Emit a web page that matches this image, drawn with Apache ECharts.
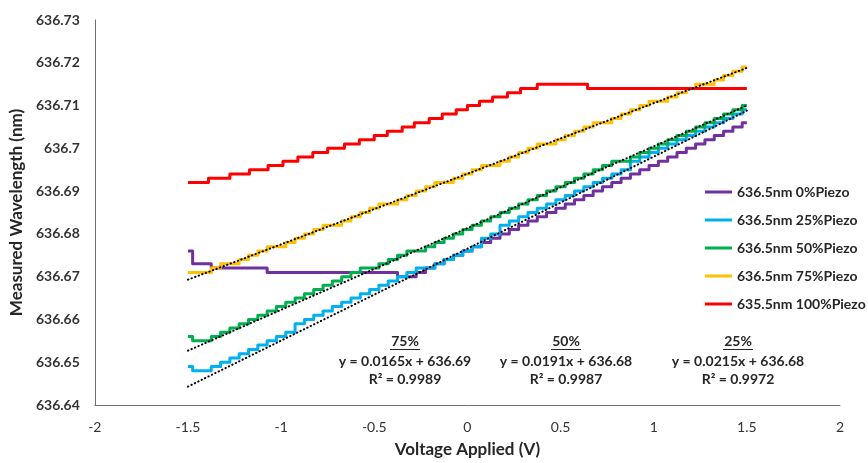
<!DOCTYPE html>
<html>
<head>
<meta charset="utf-8">
<script src="https://cdn.jsdelivr.net/npm/echarts@6/dist/echarts.min.js"></script>
<style>
  html, body { margin: 0; padding: 0; background: #ffffff; }
  #chart { width: 868px; height: 463px; }
</style>
</head>
<body>
<div id="chart"></div>
<script>
// Sweep voltages (V) shared by the four 636.5 nm runs
const voltage = [-1.5,-1.45,-1.4,-1.35,-1.3,-1.25,-1.2,-1.15,-1.1,-1.05,
  -1,-0.95,-0.9,-0.85,-0.8,-0.75,-0.7,-0.65,-0.6,-0.55,
  -0.5,-0.45,-0.4,-0.35,-0.3,-0.25,-0.2,-0.15,-0.1,-0.05,
  0,0.05,0.1,0.15,0.2,0.25,0.3,0.35,0.4,0.45,
  0.5,0.55,0.6,0.65,0.7,0.75,0.8,0.85,0.9,0.95,
  1,1.05,1.1,1.15,1.2,1.25,1.3,1.35,1.4,1.45,1.5];

// Measured wavelength (nm) for each run
const piezo0 = [636.676,636.673,636.673,636.672,636.672,636.672,636.672,636.672,636.672,636.671,
  636.671,636.671,636.671,636.671,636.671,636.671,636.671,636.671,636.671,636.671,
  636.671,636.671,636.671,636.670,636.670,636.671,636.672,636.673,636.674,636.675,
  636.676,636.677,636.678,636.679,636.680,636.681,636.682,636.683,636.684,636.685,
  636.686,636.687,636.688,636.689,636.690,636.691,636.692,636.693,636.694,636.695,
  636.696,636.697,636.698,636.699,636.700,636.701,636.702,636.703,636.704,636.705,636.706];

const piezo25 = [636.649,636.648,636.648,636.649,636.650,636.651,636.652,636.653,636.654,636.655,
  636.656,636.657,636.659,636.660,636.661,636.662,636.663,636.664,636.665,636.666,
  636.667,636.668,636.669,636.670,636.671,636.672,636.672,636.673,636.674,636.675,
  636.676,636.677,636.679,636.680,636.682,636.683,636.684,636.685,636.686,636.687,
  636.688,636.689,636.690,636.691,636.692,636.693,636.694,636.695,636.697,636.698,
  636.699,636.700,636.701,636.702,636.703,636.704,636.705,636.706,636.707,636.708,636.709];

const piezo50 = [636.656,636.655,636.655,636.656,636.657,636.658,636.659,636.660,636.661,636.662,
  636.663,636.664,636.665,636.666,636.667,636.668,636.669,636.670,636.671,636.672,
  636.672,636.673,636.674,636.675,636.676,636.676,636.677,636.678,636.679,636.680,
  636.681,636.682,636.683,636.684,636.685,636.686,636.687,636.688,636.689,636.690,
  636.691,636.692,636.693,636.694,636.695,636.696,636.697,636.697,636.698,636.699,
  636.700,636.701,636.702,636.703,636.704,636.705,636.706,636.707,636.708,636.709,636.710];

const piezo75 = [636.671,636.671,636.671,636.672,636.673,636.673,636.674,636.675,636.676,636.677,
  636.677,636.678,636.679,636.680,636.681,636.682,636.682,636.683,636.684,636.685,
  636.686,636.687,636.687,636.688,636.689,636.690,636.691,636.692,636.692,636.693,
  636.694,636.695,636.696,636.696,636.697,636.698,636.699,636.700,636.701,636.701,
  636.702,636.703,636.704,636.705,636.706,636.706,636.707,636.708,636.709,636.710,
  636.711,636.711,636.712,636.713,636.714,636.715,636.715,636.716,636.717,636.718,636.719];

// 635.5 nm run: voltage where each new reading starts, and the reading
const voltage100 = [-1.5,-1.39,-1.275,-1.17,-1.07,-0.99,-0.91,-0.83,-0.75,-0.66,
  -0.58,-0.5,-0.43,-0.35,-0.285,-0.205,-0.135,-0.06,0,0.065,
  0.135,0.215,0.285,0.375,0.645,1.5];
const piezo100 = [636.692,636.693,636.694,636.695,636.696,636.697,636.698,636.699,636.700,636.701,
  636.702,636.703,636.704,636.705,636.706,636.707,636.708,636.709,636.710,636.711,
  636.712,636.713,636.714,636.715,636.714,636.714];

// Linear trend end points (x = -1.5 and x = 1.5)
const trendX = [-1.5, 1.5];
const trend75 = [636.6693, 636.7188];
const trend50 = [636.6527, 636.7100];
const trend25 = [636.6443, 636.7088];

// Fit annotations
const fitTitles = ['75%', '50%', '25%'];
const fitEquations = ['y = 0.0165x + 636.69', 'y = 0.0191x + 636.68', 'y = 0.0215x + 636.68'];
const fitR2 = ['R\u00B2 = 0.9989', 'R\u00B2 = 0.9987', 'R\u00B2 = 0.9972'];

const seriesNames = ['636.5nm 0%Piezo', '636.5nm 25%Piezo', '636.5nm 50%Piezo', '636.5nm 75%Piezo', '635.5nm 100%Piezo'];
const seriesColors = ['#7030A0', '#00B0F0', '#00B050', '#FFC000', '#FF0000'];

const FONT = 'Lato, "Open Sans", sans-serif';
const TEXT = '#262626';
const zip = (xs, ys) => xs.map((x, i) => [x, ys[i]]);

function dataSeries(name, color, pts, step) {
  return {
    name: name, type: 'line', data: pts, step: step,
    symbol: 'none', showSymbol: false,
    lineStyle: { color: color, width: 3, join: 'round' },
    itemStyle: { color: color },
    z: 2
  };
}
function trendSeries(ys) {
  return {
    name: 'trend', type: 'line', data: zip(trendX, ys),
    symbol: 'none', showSymbol: false, silent: true,
    lineStyle: { color: '#000000', width: 2, type: [0.4, 3.4], cap: 'round' },
    z: 3
  };
}

const chart = echarts.init(document.getElementById('chart'), null, { renderer: 'canvas' });

// Fit annotation blocks (title underlined, equation, R squared)
const annX = [405, 566, 738];
const graphics = [];
fitTitles.forEach((t, i) => {
  graphics.push({ type: 'text', x: annX[i], y: 341, style: { text: t, fill: TEXT, font: 'bold 14px ' + FONT, align: 'center', verticalAlign: 'middle' } });
  graphics.push({ type: 'line', shape: { x1: annX[i] - 15, y1: 349.5, x2: annX[i] + 15, y2: 349.5 }, style: { stroke: TEXT, lineWidth: 1 } });
  graphics.push({ type: 'text', x: annX[i], y: 361, style: { text: fitEquations[i], fill: TEXT, font: 'bold 14px ' + FONT, align: 'center', verticalAlign: 'middle' } });
  graphics.push({ type: 'text', x: annX[i], y: 379, style: { text: fitR2[i], fill: TEXT, font: 'bold 14px ' + FONT, align: 'center', verticalAlign: 'middle' } });
});

chart.setOption({
  animation: false,
  backgroundColor: '#ffffff',
  grid: { left: 93, right: 28, top: 20, bottom: 55 },
  legend: {
    data: seriesNames,
    orient: 'vertical',
    left: 700, top: 180,
    icon: 'rect', itemWidth: 27, itemHeight: 3, itemGap: 14,
    textStyle: { fontFamily: FONT, fontWeight: 'bold', fontSize: 14, lineHeight: 14, color: TEXT },
    selectedMode: false
  },
  xAxis: {
    type: 'value', min: -2, max: 2, interval: 0.5,
    name: 'Voltage Applied (V)', nameLocation: 'middle', nameGap: 36,
    nameTextStyle: { fontFamily: FONT, fontWeight: 'bold', fontSize: 17, color: TEXT },
    axisLine: { show: true, onZero: false, lineStyle: { color: '#6f6f6f', width: 1 } },
    axisTick: { show: false },
    splitLine: { show: false },
    axisLabel: { margin: 15, fontFamily: FONT, fontSize: 14, color: '#333333' }
  },
  yAxis: {
    type: 'value', min: 636.64, max: 636.73, interval: 0.01,
    name: 'Measured Wavelength (nm)', nameLocation: 'middle', nameGap: 67,
    nameTextStyle: { fontFamily: FONT, fontWeight: 'bold', fontSize: 17, color: TEXT },
    axisLine: { show: true, onZero: false, lineStyle: { color: '#6f6f6f', width: 1 } },
    axisTick: { show: false },
    splitLine: { show: false },
    axisLabel: { margin: 15, fontFamily: FONT, fontWeight: 'bold', fontSize: 14, color: '#333333',
      formatter: v => String(+v.toFixed(2)) }
  },
  series: [
    dataSeries(seriesNames[0], seriesColors[0], zip(voltage, piezo0), 'middle'),
    dataSeries(seriesNames[1], seriesColors[1], zip(voltage, piezo25), 'middle'),
    dataSeries(seriesNames[2], seriesColors[2], zip(voltage, piezo50), 'middle'),
    dataSeries(seriesNames[3], seriesColors[3], zip(voltage, piezo75), 'middle'),
    dataSeries(seriesNames[4], seriesColors[4], zip(voltage100, piezo100), 'end'),
    trendSeries(trend75),
    trendSeries(trend50),
    trendSeries(trend25)
  ],
  graphic: graphics
});
</script>
</body>
</html>
